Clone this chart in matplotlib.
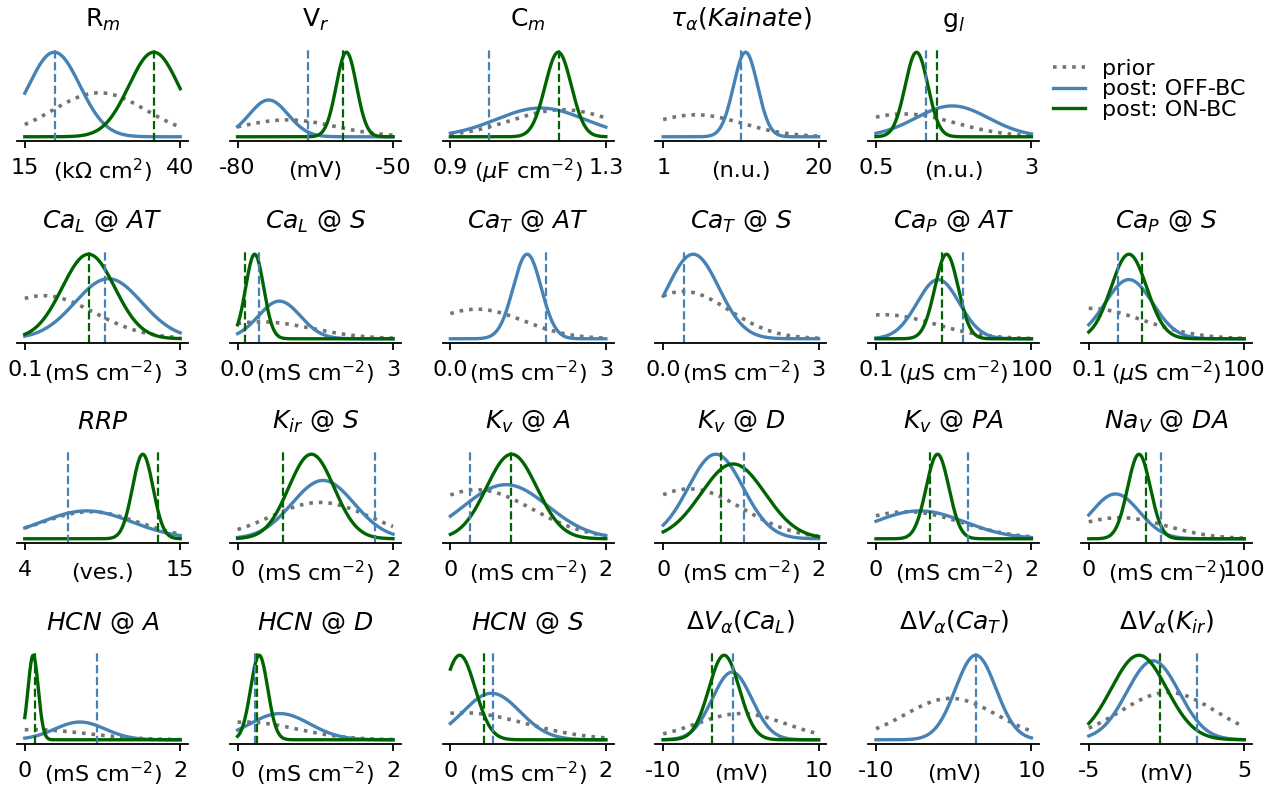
import numpy as np
import matplotlib.pyplot as plt
from matplotlib.lines import Line2D

# panel order: row 1 has 5 panels (legend sits in the 6th slot), rows 2-4 have 6
titles = [
    "R$_m$", "V$_r$", "C$_m$", r"$\tau_\alpha(Kainate)$", "g$_l$",
    r"$Ca_L\ @\ AT$", r"$Ca_L\ @\ S$", r"$Ca_T\ @\ AT$", r"$Ca_T\ @\ S$", r"$Ca_P\ @\ AT$", r"$Ca_P\ @\ S$",
    r"$RRP$", r"$K_{ir}\ @\ S$", r"$K_v\ @\ A$", r"$K_v\ @\ D$", r"$K_v\ @\ PA$", r"$Na_V\ @\ DA$",
    r"$HCN\ @\ A$", r"$HCN\ @\ D$", r"$HCN\ @\ S$", r"$\Delta V_\alpha(Ca_L)$", r"$\Delta V_\alpha(Ca_T)$",
    r"$\Delta V_\alpha(K_{ir})$",
]
MS = "(mS cm$^{-2}$)"
US = r"($\mu$S cm$^{-2}$)"
units = [
    "(kΩ cm$^2$)", "(mV)", r"($\mu$F cm$^{-2}$)", "(n.u.)", "(n.u.)",
    MS, MS, MS, MS, US, US,
    "(ves.)", MS, MS, MS, MS, MS,
    MS, MS, MS, "(mV)", "(mV)", "(mV)",
]
tick_lo = ["15", "-80", "0.9", "1", "0.5",
           "0.1", "0.0", "0.0", "0.0", "0.1", "0.1",
           "4", "0", "0", "0", "0", "0",
           "0", "0", "0", "-10", "-10", "-5"]
tick_hi = ["40", "-50", "1.3", "20", "3",
           "3", "3", "3", "3", "100", "100",
           "15", "2", "2", "2", "2", "100",
           "2", "2", "2", "10", "10", "5"]

# marginal densities as (mean, sd, peak) on a 0-1 axis,
# peak relative to the tallest curve of the panel
prior_fit = [
    (0.48, 0.30, 0.52), (0.32, 0.31, 0.20), (0.72, 0.33, 0.32), (0.21, 0.30, 0.26), (0.18, 0.33, 0.27),
    (0.12, 0.327, 0.51), (0.15, 0.33, 0.20), (0.17, 0.30, 0.35), (0.13, 0.293, 0.56), (0.05, 0.33, 0.285),
    (0.0, 0.35, 0.36),
    (0.42, 0.31, 0.32), (0.53, 0.32, 0.43), (0.17, 0.356, 0.58), (0.17, 0.34, 0.59), (0.20, 0.35, 0.32),
    (0.20, 0.30, 0.25),
    (0.05, 0.35, 0.12), (0.05, 0.33, 0.21), (0.08, 0.40, 0.32), (0.50, 0.29, 0.31), (0.48, 0.295, 0.49),
    (0.51, 0.305, 0.56),
]
off_fit = [
    (0.19, 0.165, 1.0), (0.20, 0.125, 0.435), (0.58, 0.285, 0.34), (0.53, 0.077, 1.0), (0.49, 0.235, 0.365),
    (0.538, 0.215, 0.71), (0.269, 0.135, 0.445), (0.494, 0.09, 1.0), (0.193, 0.165, 1.0), (0.40, 0.136, 0.70),
    (0.258, 0.152, 0.70),
    (0.398, 0.29, 0.33), (0.55, 0.20, 0.69), (0.357, 0.27, 0.64), (0.338, 0.177, 1.0), (0.28, 0.29, 0.33),
    (0.172, 0.153, 0.53),
    (0.355, 0.162, 0.21), (0.272, 0.193, 0.31), (0.265, 0.183, 0.55), (0.443, 0.127, 0.80), (0.642, 0.13, 1.0),
    (0.413, 0.168, 0.934),
]
on_fit = [
    (0.83, 0.16, 1.0), (0.70, 0.065, 1.0), (0.694, 0.084, 1.0), None, (0.261, 0.073, 1.0),
    (0.41, 0.169, 1.0), (0.11, 0.058, 1.0), None, None, (0.454, 0.075, 1.0),
    (0.258, 0.115, 1.0),
    (0.759, 0.066, 1.0), (0.475, 0.146, 1.0), (0.394, 0.162, 1.0), (0.45, 0.206, 0.885), (0.396, 0.073, 1.0),
    (0.323, 0.073, 1.0),
    (0.054, 0.033, 1.0), (0.139, 0.055, 1.0), (0.06, 0.10, 1.0), (0.392, 0.098, 1.0), None,
    (0.323, 0.178, 1.0),
]
# fitted parameter values (dashed lines)
off_mark = [0.194, 0.454, 0.249, 0.50, 0.321,
            0.516, 0.14, 0.613, 0.133, 0.561, 0.187,
            0.275, 0.887, 0.129, 0.518, 0.593, 0.463,
            0.462, 0.115, 0.275, 0.45, 0.642, 0.697]
on_mark = [0.83, 0.68, 0.70, None, 0.39,
           0.41, 0.048, None, None, 0.422, 0.345,
           0.856, 0.293, 0.389, 0.371, 0.347, 0.37,
           0.065, 0.125, 0.217, 0.315, None, 0.456]

C_PRIOR = "0.45"
C_OFF = "steelblue"
C_ON = "darkgreen"

W, H = 1274, 787
fig = plt.figure(figsize=(W / 100, H / 100), dpi=100)

slots = [(0, c) for c in range(5)] + [(r, c) for r in range(1, 4) for c in range(6)]
spine_y = [141, 343, 543, 744]
x = np.linspace(0, 1, 400)


def density(fit):
    mu, sd, peak = fit
    return peak * np.exp(-0.5 * ((x - mu) / sd) ** 2)


for i, (r, c) in enumerate(slots):
    left = 17 + 212.8 * c
    ax = fig.add_axes([left / W, 1 - spine_y[r] / H, 171 / W, 93 / H])
    ax.plot(x, density(prior_fit[i]), color=C_PRIOR, ls=":", lw=2.6)
    ax.plot(x, density(off_fit[i]), color=C_OFF, lw=2.4)
    if on_fit[i] is not None:
        ax.plot(x, density(on_fit[i]), color=C_ON, lw=2.4)
    ax.axvline(off_mark[i], color=C_OFF, ls="--", lw=1.6)
    if on_mark[i] is not None:
        ax.axvline(on_mark[i], color=C_ON, ls="--", lw=1.6)

    ax.set_xlim(-0.05, 1.05)
    ax.set_ylim(-0.05, 1.05)
    ax.set_xticks([0, 1])
    ax.set_xticklabels([tick_lo[i], tick_hi[i]])
    ax.set_yticks([])
    for s in ("left", "top", "right"):
        ax.spines[s].set_visible(False)
    ax.spines["bottom"].set_linewidth(1.3)
    ax.tick_params(axis="x", labelsize=16, length=5, width=1.3, pad=7.5)
    ax.set_title(titles[i], fontsize=18, pad=15)
    ax.text(0.5, -0.325, units[i], transform=ax.transAxes, ha="center", va="center", fontsize=16)

handles = [
    Line2D([], [], color=C_PRIOR, ls=":", lw=2.6),
    Line2D([], [], color=C_OFF, lw=2.4),
    Line2D([], [], color=C_ON, lw=2.4),
]
fig.legend(handles, ["prior", "post: OFF-BC", "post: ON-BC"], loc="upper left",
           bbox_to_anchor=(1053 / W, 1 - 59 / H), frameon=False, fontsize=16,
           handlelength=1.45, handletextpad=0.75, labelspacing=0.02,
           borderpad=0, borderaxespad=0)

fig.savefig("out.png", dpi=100)
